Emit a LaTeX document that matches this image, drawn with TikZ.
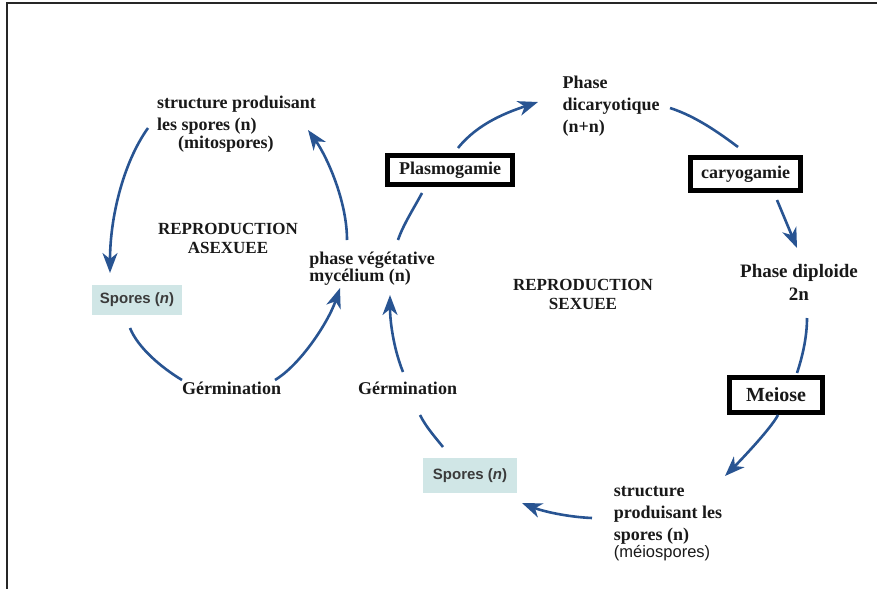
\documentclass[tikz,border=0pt]{standalone}
\usepackage{fontspec}
\setmainfont{Liberation Serif}
\setsansfont{Liberation Sans}
\usetikzlibrary{arrows.meta}

\definecolor{cyclearrow}{RGB}{40,84,146}
\definecolor{sporefill}{RGB}{208,230,230}
\definecolor{inktext}{RGB}{25,25,25}

\begin{document}
\begin{tikzpicture}[x=1pt,y=-1pt,
  lbl/.style={font=\fontsize{18}{22}\selectfont\bfseries, text=inktext, inner sep=0pt, align=left},
  ctr/.style={lbl, align=center},
  stagebox/.style={draw=black, line width=5pt, fill=white, text=inktext,
    font=\fontsize{18}{22}\selectfont\bfseries, inner sep=0pt},
  sporebox/.style={fill=sporefill, text=inktext!85,
    font=\sffamily\bfseries\fontsize{15}{18}\selectfont, inner sep=0pt},
  flow/.style={draw=cyclearrow, line width=2.6pt},
  flowarrow/.style={flow, -{Stealth[length=20pt,width=15pt,inset=6pt]}},
]
\useasboundingbox (0,0) rectangle (877,589);

% frame (top and left edges)
\draw[line width=2pt, black!85] (877,3) -- (7,3) -- (7,589);

% ---- labels ----
\node[lbl] (mito) at (236.5,124.5)
  {structure produisant\\les spores (n)\\[-4pt]\hspace*{21pt}(mitospores)};
\node[ctr, font=\fontsize{17}{19}\selectfont\bfseries] (asex) at (228,238)
  {REPRODUCTION\\ASEXUEE};
\node[lbl] (myc) at (372,269) {phase végétative\\[-5pt]mycélium (n)};
\node[sporebox, minimum width=90pt, minimum height=30pt] (sporesA) at (137,300)
  {Spores (\textit{n})};
\node[lbl] (germA) at (231.5,388) {Gérmination};
\node[lbl] (germB) at (407.5,388) {Gérmination};
\node[stagebox, minimum width=125pt, minimum height=29pt] (plasmo) at (450,170)
  {Plasmogamie};
\node[lbl] (dicar) at (611,106) {Phase\\dicaryotique\\(n+n)};
\node[stagebox, minimum width=110pt, minimum height=33pt] (caryo) at (745.5,174)
  {caryogamie};
\node[ctr, font=\fontsize{19}{23}\selectfont\bfseries] (diplo) at (799,282)
  {Phase diploide\\2n};
\node[ctr, font=\fontsize{17}{19}\selectfont\bfseries] (sex) at (583,294)
  {REPRODUCTION\\SEXUEE};
\node[stagebox, minimum width=93pt, minimum height=35pt,
  font=\fontsize{20}{24}\selectfont\bfseries] (meiose) at (776,395) {Meiose};
\node[sporebox, minimum width=94pt, minimum height=35pt] (sporesB) at (470,475.5)
  {Spores (\textit{n})};
\node[lbl] (struct) at (668,524)
  {structure\\produisant les\\spores (n)\\[-5pt]{\sffamily\mdseries\fontsize{16.5}{18}\selectfont(méiospores)}};

% ---- asexual cycle ----
\draw[flowarrow] ([shift={(-88.5,3.5)}]mito.center)
  .. controls +(-25,35) and +(0,-55) .. ([shift={(-27,-27)}]sporesA.center);
\draw[flowarrow] ([shift={(-25,-29)}]myc.center)
  .. controls +(0,-40) and +(18,25) .. ([shift={(71.5,5.5)}]mito.center);
\draw[flow] ([shift={(-7,28)}]sporesA.center)
  .. controls +(8,20) and +(-20,-12) .. ([shift={(-49.5,-8)}]germA.center);
\draw[flowarrow] ([shift={(43.5,-8)}]germA.center)
  .. controls +(25,-15) and +(-12,35) .. ([shift={(-32,19)}]myc.center);

% ---- sexual cycle ----
\draw[flowarrow] ([shift={(-4.5,-16)}]germB.center)
  .. controls +(-10,-25) and +(0,25) .. ([shift={(18,26)}]myc.center);
\draw[flow] ([shift={(-27,-28.5)}]sporesB.center)
  .. controls +(-8,-10) and +(6,12) .. ([shift={(12.5,27)}]germB.center);
\draw[flow] ([shift={(26,-29)}]myc.center)
  .. controls +(5,-15) and +(-8,15) .. ([shift={(-28,23)}]plasmo.center);
\draw[flowarrow] ([shift={(8,-22)}]plasmo.center)
  .. controls +(20,-25) and +(-30,10) .. ([shift={(-73,-4)}]dicar.center);
\draw[flow] ([shift={(59,2)}]dicar.center)
  .. controls +(25,8) and +(-20,-15) .. ([shift={(-7.5,-27)}]caryo.center);
\draw[flowarrow] ([shift={(31.5,26)}]caryo.center)
  -- ([shift={(-2,-34)}]diplo.center);
\draw[flow] ([shift={(8,36)}]diplo.center)
  .. controls +(0,20) and +(5,-15) .. ([shift={(21,-22)}]meiose.center);
\draw[flowarrow] ([shift={(2,20)}]meiose.center)
  .. controls +(-8,15) and +(12,-12) .. ([shift={(57,-48)}]struct.center);
\draw[flowarrow] ([shift={(-76,-6)}]struct.center)
  .. controls +(-25,-1) and +(20,8) .. ([shift={(52,27.5)}]sporesB.center);
\end{tikzpicture}
\end{document}
